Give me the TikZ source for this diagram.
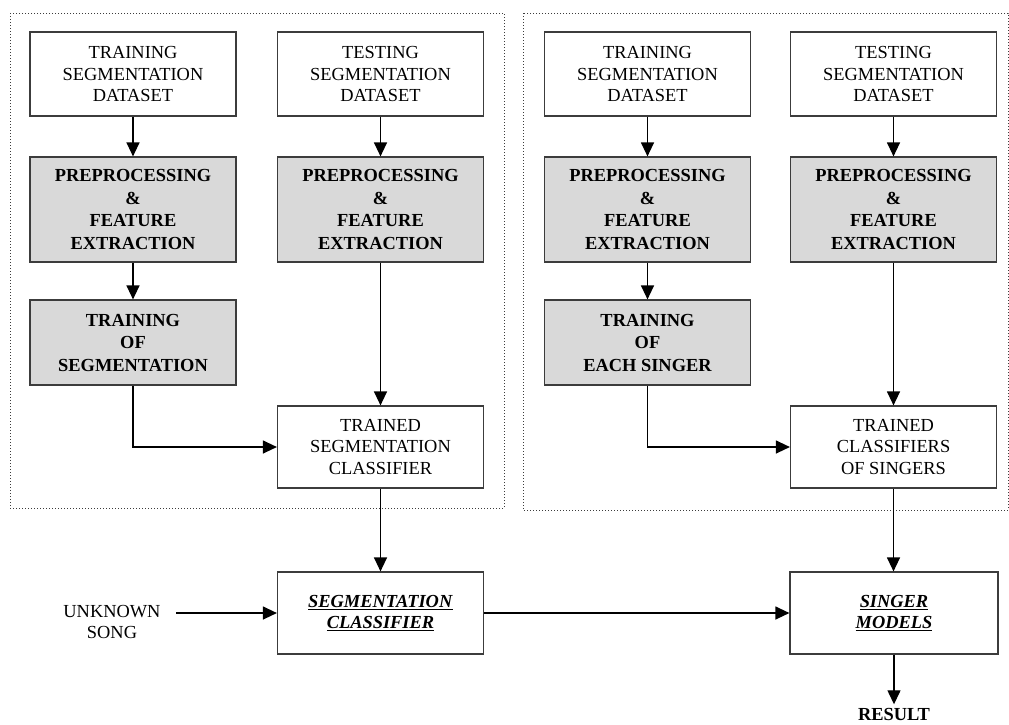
\documentclass[tikz,border=0pt]{standalone}
\usepackage{fontspec}
\setmainfont{Liberation Serif}
\usetikzlibrary{arrows.meta}

\definecolor{boxgray}{RGB}{217,217,217}
\definecolor{edgegray}{RGB}{60,60,60}

\tikzset{
    box/.style={draw=edgegray, line width=1.2pt, fill=white, minimum width=206pt, align=center, inner sep=2pt, font=\fontsize{18.4}{21.5}\selectfont},
    greybox/.style={box, fill=boxgray, font=\fontsize{18.4}{22.5}\selectfont\bfseries},
    arr/.style={line width=1.3pt, -{Triangle[length=14pt,width=13pt]}},
    frame/.style={draw=edgegray, dotted, line width=1pt}
}

\begin{document}
\begin{tikzpicture}[x=1pt, y=-1pt]
    \useasboundingbox (0,0) rectangle (1009,724);

    % Dotted frames around the two training parts
    \draw[frame] (10,13) rectangle (504,508);
    \draw[frame] (523,13) rectangle (1008,510);

    % Left part: segmentation
    \node[box, minimum height=84pt] (trainseg) at (133,74) {TRAINING\\SEGMENTATION\\DATASET};
    \node[box, minimum height=84pt] (testseg) at (380.5,74) {TESTING\\SEGMENTATION\\DATASET};
    \node[greybox, minimum height=105pt] (prepA) at (133,209.5) {PREPROCESSING\\\&\\FEATURE\\EXTRACTION};
    \node[greybox, minimum height=105pt] (prepB) at (380.5,209.5) {PREPROCESSING\\\&\\FEATURE\\EXTRACTION};
    \node[greybox, minimum height=85pt] (trainingseg) at (133,342.5) {TRAINING\\OF\\SEGMENTATION};
    \node[box, minimum height=82pt] (trainedseg) at (380.5,447) {TRAINED\\SEGMENTATION\\CLASSIFIER};

    % Right part: singers
    \node[box, minimum height=84pt] (trainsing) at (647.5,74) {TRAINING\\SEGMENTATION\\DATASET};
    \node[box, minimum height=84pt] (testsing) at (893.5,74) {TESTING\\SEGMENTATION\\DATASET};
    \node[greybox, minimum height=105pt] (prepC) at (647.5,209.5) {PREPROCESSING\\\&\\FEATURE\\EXTRACTION};
    \node[greybox, minimum height=105pt] (prepD) at (893.5,209.5) {PREPROCESSING\\\&\\FEATURE\\EXTRACTION};
    \node[greybox, minimum height=85pt] (trainingsing) at (647.5,342.5) {TRAINING\\OF\\EACH SINGER};
    \node[box, minimum height=82pt] (trainedsing) at (893.5,447) {TRAINED\\CLASSIFIERS\\OF SINGERS};

    % Bottom row
    \node[box, minimum height=82pt] (segclf) at (380.5,613) {\underline{\textbf{\textit{SEGMENTATION}}}\\\underline{\textbf{\textit{CLASSIFIER}}}};
    \node[box, minimum height=82pt, minimum width=208pt] (singer) at (894,613) {\underline{\textbf{\textit{SINGER}}}\\\underline{\textbf{\textit{MODELS}}}};
    \node[align=center, font=\fontsize{18.4}{21.5}\selectfont] (unknown) at (112,622) {UNKNOWN\\SONG};
    \node[font=\fontsize{18.4}{21.5}\selectfont\bfseries] (result) at (894,714) {RESULT};

    % Arrows, left part
    \draw[arr] (trainseg) -- (prepA);
    \draw[arr] (prepA) -- (trainingseg);
    \draw[arr] (trainingseg.south) |- (trainedseg.west);
    \draw[arr] (testseg) -- (prepB);
    \draw[arr] (prepB) -- (trainedseg);
    \draw[arr] (trainedseg) -- (segclf);

    % Arrows, right part
    \draw[arr] (trainsing) -- (prepC);
    \draw[arr] (prepC) -- (trainingsing);
    \draw[arr] (trainingsing.south) |- (trainedsing.west);
    \draw[arr] (testsing) -- (prepD);
    \draw[arr] (prepD) -- (trainedsing);
    \draw[arr] (trainedsing.south) -- (trainedsing.south |- singer.north);

    % Arrows, bottom row
    \draw[arr] ([xshift=12pt]unknown.east |- segclf.west) -- (segclf.west);
    \draw[arr] (segclf) -- (singer);
    \draw[arr] (singer) -- (result);

\end{tikzpicture}
\end{document}
